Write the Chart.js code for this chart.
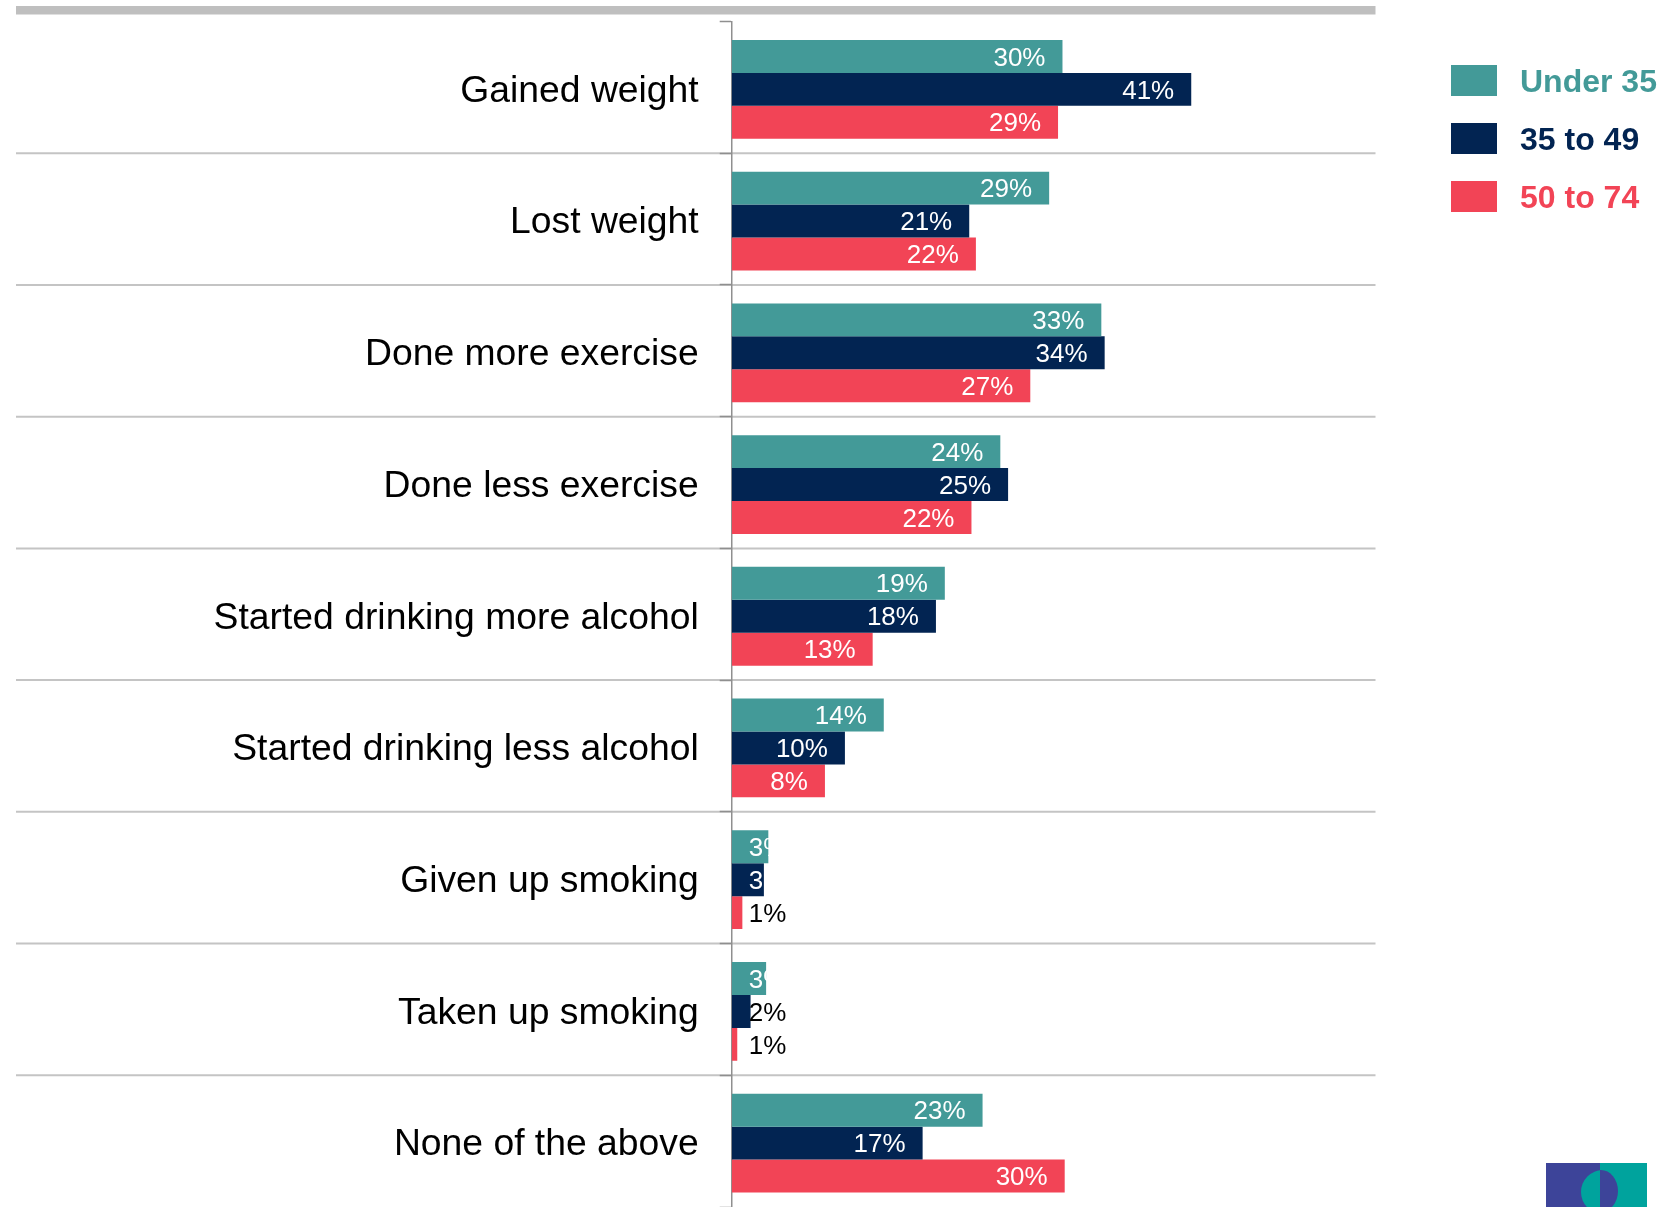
<!DOCTYPE html>
<html>
<head>
<meta charset="utf-8">
<script src="https://cdn.jsdelivr.net/npm/chart.js@4.4.1/dist/chart.umd.min.js"></script>
<style>
  html, body { margin: 0; padding: 0; background: #ffffff; overflow: hidden; }
  #wrap { width: 1661px; height: 1207px; position: relative; }
</style>
</head>
<body>
<div id="wrap"><canvas id="chart"></canvas></div>
<script>
// categories and values (percent of respondents)
const categories = [
  "Gained weight",
  "Lost weight",
  "Done more exercise",
  "Done less exercise",
  "Started drinking more alcohol",
  "Started drinking less alcohol",
  "Given up smoking",
  "Taken up smoking",
  "None of the above"
];
const seriesNames = ["Under 35", "35 to 49", "50 to 74"];
const under35 = [29.8, 28.6, 33.3, 24.2, 19.2, 13.7, 3.3, 3.1, 22.6];
const age35to49 = [41.4, 21.4, 33.6, 24.9, 18.4, 10.2, 2.9, 1.7, 17.2];
const age50to74 = [29.4, 22.0, 26.9, 21.6, 12.7, 8.4, 0.96, 0.5, 30.0];

const colors = ["#439a98", "#022452", "#f24456"];
const FONT = "'Liberation Sans', Arial, Helvetica, sans-serif";
const BAR_SHIFT = 2; // bar groups sit a touch below the row centre

// separators across the whole row + grey band on top
const rowLines = {
  id: "rowLines",
  beforeDraw(chart) {
    const ctx = chart.ctx;
    const y = chart.scales.y;
    const area = chart.chartArea;
    ctx.save();
    ctx.fillStyle = "#bfbfbf";
    ctx.fillRect(16, 6, area.right - 16, 8.5);
    ctx.strokeStyle = "#c4c4c4";
    ctx.lineWidth = 2;
    for (let i = 1; i < categories.length; i++) {
      const py = y.getPixelForValue(i - 0.5);
      ctx.beginPath();
      ctx.moveTo(16, py);
      ctx.lineTo(area.right, py);
      ctx.stroke();
    }
    ctx.restore();
  },
  beforeDatasetsDraw(chart) {
    chart.ctx.save();
    chart.ctx.translate(0, BAR_SHIFT);
  },
  afterDatasetsDraw(chart) {
    chart.ctx.restore();
  }
};

// value labels: inside end, pushed to inside base when the bar is too short
const valueLabels = {
  id: "valueLabels",
  afterDatasetsDraw(chart) {
    const ctx = chart.ctx;
    ctx.save();
    ctx.font = "26px " + FONT;
    ctx.textBaseline = "middle";
    ctx.textAlign = "left";
    chart.data.datasets.forEach((ds, di) => {
      const meta = chart.getDatasetMeta(di);
      meta.data.forEach((bar, i) => {
        const v = Math.round(ds.data[i]);
        const txt = v + "%";
        const w = ctx.measureText(txt).width;
        const x = Math.max(bar.x - 17 - w, bar.base + 17);
        ctx.fillStyle = v <= 2 ? "#000000" : "#ffffff";
        ctx.fillText(txt, x, bar.y + BAR_SHIFT + 2);
      });
    });
    ctx.restore();
  }
};

// legend on the right, coloured text
const sideLegend = {
  id: "sideLegend",
  afterDraw(chart) {
    const ctx = chart.ctx;
    ctx.save();
    ctx.font = "bold 32px " + FONT;
    ctx.textBaseline = "middle";
    chart.data.datasets.forEach((ds, i) => {
      const top = 65 + i * 58;
      ctx.fillStyle = ds.backgroundColor;
      ctx.fillRect(1451, top, 46, 31);
      ctx.fillText(ds.label, 1520, top + 18);
    });

    // small logo, bottom right
    ctx.fillStyle = "#3d4499";
    ctx.fillRect(1546, 1163, 54, 44);
    ctx.fillStyle = "#00a39d";
    ctx.fillRect(1600, 1163, 47, 44);
    ctx.save();
    ctx.beginPath();
    ctx.rect(1570, 1163, 30, 44);
    ctx.clip();
    ctx.fillStyle = "#00a39d";
    ctx.beginPath();
    ctx.ellipse(1603, 1192, 22, 22, 0, 0, Math.PI * 2);
    ctx.fill();
    ctx.restore();
    ctx.save();
    ctx.beginPath();
    ctx.rect(1600, 1163, 30, 44);
    ctx.clip();
    ctx.fillStyle = "#3d4499";
    ctx.beginPath();
    ctx.ellipse(1601, 1191, 17, 21, 0, 0, Math.PI * 2);
    ctx.fill();
    ctx.restore();
    ctx.restore();
  }
};

new Chart(document.getElementById("chart"), {
  type: "bar",
  data: {
    labels: categories,
    datasets: [
      { label: seriesNames[0], data: under35, backgroundColor: colors[0] },
      { label: seriesNames[1], data: age35to49, backgroundColor: colors[1] },
      { label: seriesNames[2], data: age50to74, backgroundColor: colors[2] }
    ]
  },
  options: {
    indexAxis: "y",
    responsive: true,
    maintainAspectRatio: false,
    animation: false,
    events: [],
    layout: { padding: { left: 0, right: 285.5, top: 21.5, bottom: 0 } },
    datasets: {
      bar: { categoryPercentage: 0.75, barPercentage: 1.0, borderWidth: 0 }
    },
    scales: {
      x: {
        display: false,
        min: 0,
        max: 58
      },
      y: {
        grid: {
          display: true,
          offset: true,
          drawOnChartArea: false,
          drawTicks: true,
          tickLength: 12,
          tickColor: "#8f8f8f",
          tickWidth: 1.5
        },
        border: { display: true, color: "#8f8f8f", width: 1.5 },
        ticks: {
          autoSkip: false,
          padding: 21,
          labelOffset: 4,
          color: "#000000",
          font: { family: FONT, size: 37.3 }
        },
        afterFit(scale) {
          scale.width = 731.7;
          scale.paddingTop = 0;
          scale.paddingBottom = 0;
        }
      }
    },
    plugins: {
      legend: { display: false },
      tooltip: { enabled: false }
    }
  },
  plugins: [rowLines, valueLabels, sideLegend]
});
</script>
</body>
</html>
